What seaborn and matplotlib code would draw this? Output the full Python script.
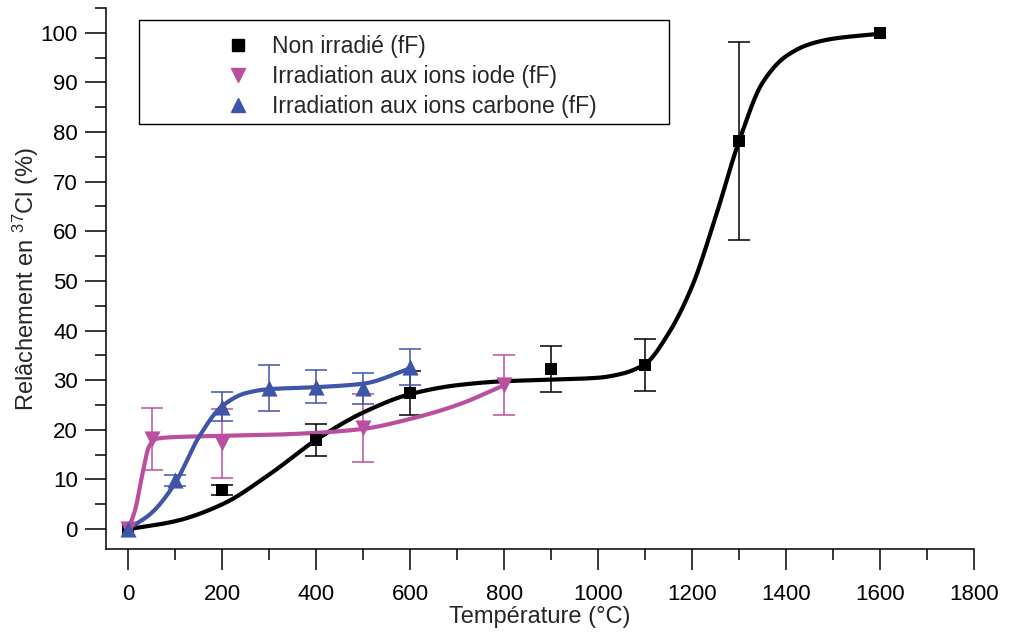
import numpy as np
import pandas as pd
import matplotlib
matplotlib.use("Agg")
import matplotlib.pyplot as plt
from matplotlib.patches import Rectangle
from matplotlib.lines import Line2D
from matplotlib.ticker import MultipleLocator
import seaborn as sns

# ---------------- data ----------------
labels = ["Non irradié (fF)", "Irradiation aux ions iode (fF)", "Irradiation aux ions carbone (fF)"]

non_x = [0, 200, 400, 600, 900, 1100, 1300, 1600]
non_y = [0, 7.9, 18.0, 27.4, 32.3, 33.1, 78.2, 100.0]
non_err = [0, 1.0, 3.2, 4.4, 4.6, 5.2, 20.0, 0]

iode_x = [0, 50, 200, 500, 800]
iode_y = [0, 18.2, 17.3, 20.4, 29.0]
iode_err = [0, 6.3, 6.9, 6.8, 6.1]

carb_x = [0, 100, 200, 300, 400, 500, 600]
carb_y = [0, 9.8, 24.7, 28.4, 28.7, 28.4, 32.6]
carb_err = [0, 1.2, 2.9, 4.6, 3.3, 3.1, 3.6]

# fitted curves (control points)
non_fit_x = [0, 100, 200, 300, 400, 500, 600, 700, 800, 900, 1000, 1050, 1100, 1150, 1200,
             1250, 1300, 1350, 1400, 1450, 1500, 1600]
non_fit_y = [0, 1.6, 5.0, 11.0, 18.0, 23.5, 27.2, 29.0, 29.8, 30.1, 30.5, 31.3, 33.3, 39.5, 49.0,
             63.0, 78.3, 90.0, 95.3, 97.7, 98.8, 99.8]
iode_fit_x = [0, 15, 30, 45, 60, 90, 200, 300, 400, 500, 600, 700, 800]
iode_fit_y = [0, 4.0, 11.0, 16.8, 18.2, 18.5, 18.8, 19.0, 19.4, 20.2, 22.2, 25.0, 29.0]
carb_fit_x = [0, 50, 100, 150, 200, 250, 300, 400, 500, 600]
carb_fit_y = [0, 3.3, 9.3, 18.5, 24.8, 27.4, 28.2, 28.6, 29.3, 32.4]

x_ticks = [0, 200, 400, 600, 800, 1000, 1200, 1400, 1600, 1800]
y_ticks = [0, 10, 20, 30, 40, 50, 60, 70, 80, 90, 100]

# ---------------- style ----------------
sns.set_theme(style="ticks")
plt.rcParams['font.family'] = ['Liberation Sans', 'DejaVu Sans']
plt.rcParams['mathtext.fontset'] = 'custom'
plt.rcParams['mathtext.rm'] = 'Liberation Sans'
plt.rcParams['mathtext.it'] = 'Liberation Sans'

BLACK = "#000000"
MAG = "#BA4FA0"
BLUE = "#3E55A8"


def pchip(x, y, xs):
    x = np.asarray(x, float); y = np.asarray(y, float)
    h = np.diff(x); d = np.diff(y) / h
    n = len(x)
    m = np.zeros(n)
    m[0] = d[0]; m[-1] = d[-1]
    for k in range(1, n - 1):
        if d[k - 1] * d[k] <= 0:
            m[k] = 0
        else:
            w1 = 2 * h[k] + h[k - 1]; w2 = h[k] + 2 * h[k - 1]
            m[k] = (w1 + w2) / (w1 / d[k - 1] + w2 / d[k])
    idx = np.clip(np.searchsorted(x, xs) - 1, 0, n - 2)
    t = (xs - x[idx]) / h[idx]
    h00 = 2 * t**3 - 3 * t**2 + 1
    h10 = t**3 - 2 * t**2 + t
    h01 = -2 * t**3 + 3 * t**2
    h11 = t**3 - t**2
    return h00 * y[idx] + h10 * h[idx] * m[idx] + h01 * y[idx + 1] + h11 * h[idx] * m[idx + 1]


fig = plt.figure(figsize=(10.22, 6.36), dpi=100)
ax = fig.add_axes([0.1034, 0.1368, 0.8499, 0.8508])

# error bars
for xs_, ys_, es_, c in [(non_x, non_y, non_err, BLACK), (iode_x, iode_y, iode_err, MAG),
                         (carb_x, carb_y, carb_err, BLUE)]:
    xe = [a for a, e in zip(xs_, es_) if e > 0]
    ye = [b for b, e in zip(ys_, es_) if e > 0]
    ee = [e for e in es_ if e > 0]
    ax.errorbar(xe, ye, yerr=ee, fmt='none', ecolor=c, elinewidth=1.1, capsize=8,
                capthick=1.1, zorder=2)

# fitted curves
for fx, fy, c in [(non_fit_x, non_fit_y, BLACK), (iode_fit_x, iode_fit_y, MAG),
                  (carb_fit_x, carb_fit_y, BLUE)]:
    xx = np.linspace(fx[0], fx[-1], 800)
    yy = pchip(fx, fy, xx)
    sns.lineplot(x=xx, y=yy, ax=ax, color=c, linewidth=3.0, sort=False, zorder=3)

# markers
sns.scatterplot(x=non_x, y=non_y, ax=ax, marker='s', s=78, color=BLACK, linewidth=0, zorder=4)
sns.scatterplot(x=iode_x, y=iode_y, ax=ax, marker='v', s=135, color=MAG, linewidth=0, zorder=5)
sns.scatterplot(x=carb_x, y=carb_y, ax=ax, marker='^', s=135, color=BLUE, linewidth=0, zorder=6)

ax.set_xlim(-48, 1800)
ax.set_ylim(-4, 105)
ax.set_xticks(x_ticks)
ax.set_yticks(y_ticks)
ax.xaxis.set_minor_locator(MultipleLocator(100))
ax.yaxis.set_minor_locator(MultipleLocator(5))
ax.tick_params(axis='both', which='major', length=15, width=1.1, color='black',
               labelsize=16, labelcolor='black', direction='out')
ax.tick_params(axis='both', which='minor', length=8, width=1.1, color='black', direction='out')
ax.tick_params(axis='x', which='major', pad=10)
ax.tick_params(axis='y', which='major', pad=5)
for s in ['top', 'right']:
    ax.spines[s].set_visible(False)
for s in ['left', 'bottom']:
    ax.spines[s].set_linewidth(1.1)
    ax.spines[s].set_color('black')

ax.set_xlabel("Température (°C)", fontsize=17, labelpad=1)
ax.set_ylabel(r"Relâchement en $^{37}$Cl (%)", fontsize=17, labelpad=0)

# legend
handles = [
    Line2D([], [], linestyle='none', marker='s', markersize=8, color=BLACK),
    Line2D([], [], linestyle='none', marker='v', markersize=10, color=MAG),
    Line2D([], [], linestyle='none', marker='^', markersize=10, color=BLUE),
]
fig.legend(handles, labels, loc='upper left', bbox_to_anchor=(226.5 / 1022, 1 - 35 / 636),
           frameon=False, fontsize=16.5, handlelength=1.0, handletextpad=0.98,
           borderpad=0, borderaxespad=0, labelspacing=0.3)
fig.patches.append(Rectangle((139 / 1022, 1 - 124 / 636), 530 / 1022, 104 / 636,
                             transform=fig.transFigure, fill=False, edgecolor='black',
                             linewidth=1.0, zorder=10))

fig.savefig("out.png", dpi=100)
